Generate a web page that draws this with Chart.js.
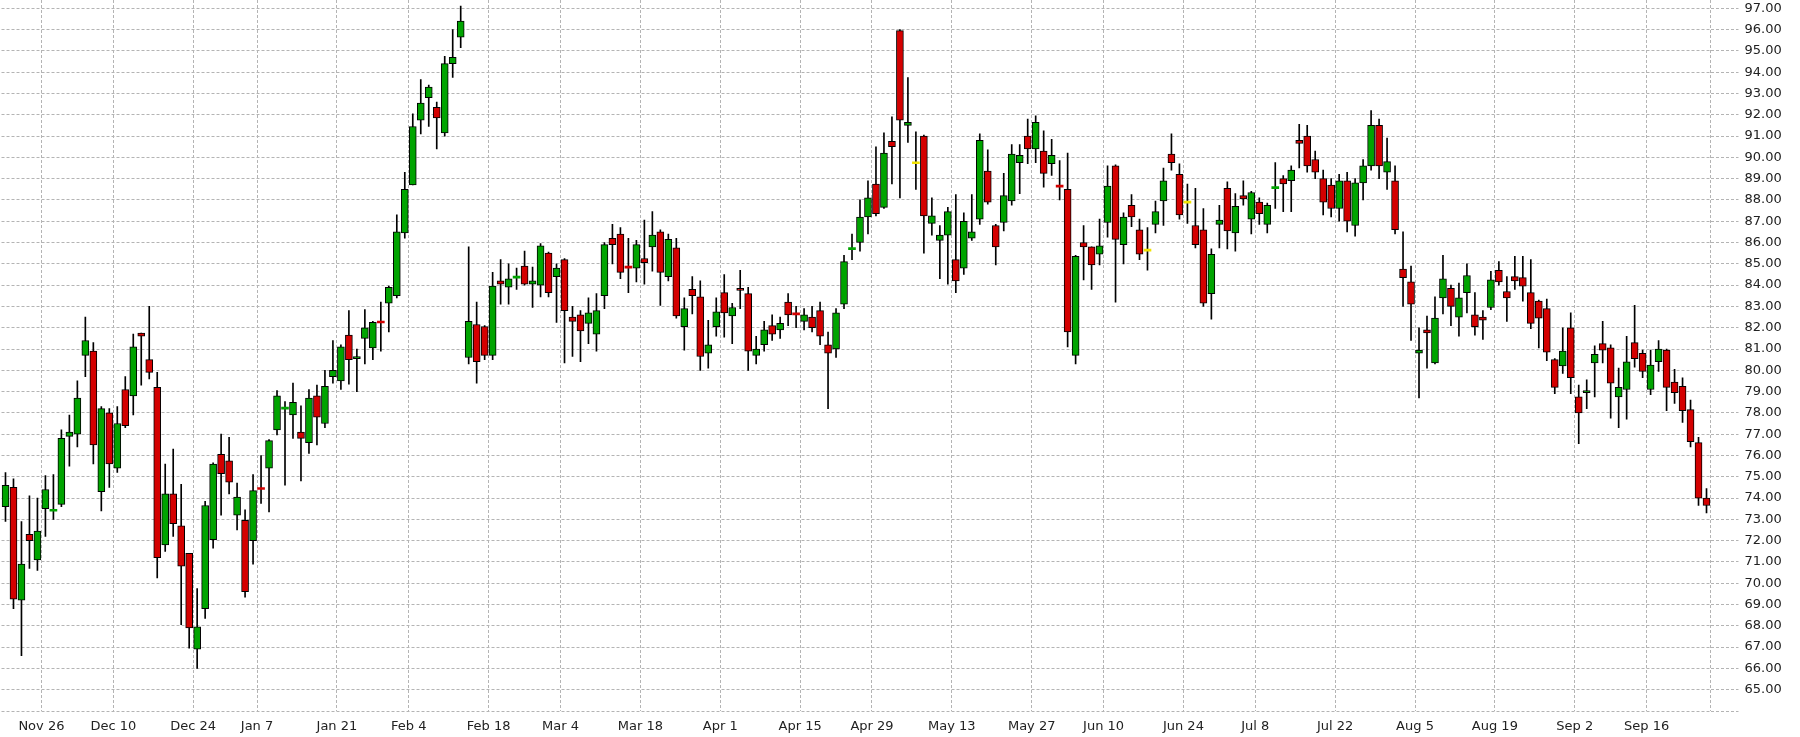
<!DOCTYPE html>
<html lang="en">
<head>
  <meta charset="UTF-8" />
  <title>Candles</title>
  <script src="https://cdn.jsdelivr.net/npm/chart.js"></script>
  <style>
    html, body { margin: 0; padding: 0; background: #fff; }
    #wrap { width: 1800px; height: 737px; position: relative; }
  </style>
</head>
<body>
  <div id="wrap"><canvas id="graph"></canvas></div>

  <script>
    // trading days
    const dates = [
      'Nov 16','Nov 19','Nov 20','Nov 21','Nov 23','Nov 26','Nov 27','Nov 28','Nov 29','Nov 30',
      'Dec 3','Dec 4','Dec 6','Dec 7','Dec 10','Dec 11','Dec 12','Dec 13','Dec 14','Dec 17','Dec 18','Dec 19','Dec 20','Dec 21','Dec 24','Dec 26','Dec 27','Dec 28','Dec 31',
      'Jan 2','Jan 3','Jan 4','Jan 7','Jan 8','Jan 9','Jan 10','Jan 11','Jan 14','Jan 15','Jan 16','Jan 17','Jan 18','Jan 22','Jan 23','Jan 24','Jan 25','Jan 28','Jan 29','Jan 30','Jan 31',
      'Feb 1','Feb 4','Feb 5','Feb 6','Feb 7','Feb 8','Feb 11','Feb 12','Feb 13','Feb 14','Feb 15','Feb 19','Feb 20','Feb 21','Feb 22','Feb 25','Feb 26','Feb 27','Feb 28',
      'Mar 1','Mar 4','Mar 5','Mar 6','Mar 7','Mar 8','Mar 11','Mar 12','Mar 13','Mar 14','Mar 15','Mar 18','Mar 19','Mar 20','Mar 21','Mar 22','Mar 25','Mar 26','Mar 27','Mar 28','Mar 29',
      'Apr 1','Apr 2','Apr 3','Apr 4','Apr 5','Apr 8','Apr 9','Apr 10','Apr 11','Apr 12','Apr 15','Apr 16','Apr 17','Apr 18','Apr 22','Apr 23','Apr 24','Apr 25','Apr 26','Apr 29','Apr 30',
      'May 1','May 2','May 3','May 6','May 7','May 8','May 9','May 10','May 13','May 14','May 15','May 16','May 17','May 20','May 21','May 22','May 23','May 24','May 28','May 29','May 30','May 31',
      'Jun 3','Jun 4','Jun 5','Jun 6','Jun 7','Jun 10','Jun 11','Jun 12','Jun 13','Jun 14','Jun 17','Jun 18','Jun 19','Jun 20','Jun 21','Jun 24','Jun 25','Jun 26','Jun 27','Jun 28',
      'Jul 1','Jul 2','Jul 3','Jul 5','Jul 8','Jul 9','Jul 10','Jul 11','Jul 12','Jul 15','Jul 16','Jul 17','Jul 18','Jul 19','Jul 22','Jul 23','Jul 24','Jul 25','Jul 26','Jul 29','Jul 30','Jul 31',
      'Aug 1','Aug 2','Aug 5','Aug 6','Aug 7','Aug 8','Aug 9','Aug 12','Aug 13','Aug 14','Aug 15','Aug 16','Aug 19','Aug 20','Aug 21','Aug 22','Aug 23','Aug 26','Aug 27','Aug 28','Aug 29','Aug 30',
      'Sep 3','Sep 4','Sep 5','Sep 6','Sep 9','Sep 10','Sep 11','Sep 12','Sep 13','Sep 16','Sep 17','Sep 18','Sep 19','Sep 20','Sep 23','Sep 24','Sep 25'
    ];

    const opens = [
      73.6,74.5,69.2,72.3,71.1,73.5,73.38,73.7,76.9,77.0,
      80.7,80.9,74.3,78.0,75.4,79.1,78.8,81.75,80.5,79.2,71.8,74.2,72.7,71.4,66.9,68.8,72.05,76.05,75.75,
      73.2,72.95,72.0,74.42,75.4,77.2,78.18,77.9,77.1,76.6,78.8,77.5,79.7,79.5,81.65,80.55,81.5,81.05,82.25,83.15,83.5,
      86.45,88.7,91.75,92.8,92.35,91.15,94.4,95.65,80.6,82.15,82.05,80.7,84.2,83.9,84.33,84.9,84.05,84.0,85.5,
      84.4,85.2,82.5,82.6,82.2,81.7,83.5,86.2,86.4,84.83,84.8,85.25,85.8,86.5,84.4,85.75,82.05,83.8,83.45,80.8,82.05,
      83.65,82.55,83.85,83.6,80.7,81.2,82.1,81.9,83.2,82.62,82.3,82.5,82.8,81.2,81.0,83.1,85.67,86.0,87.2,88.75,87.65,
      90.75,95.95,91.5,89.7,91.0,86.9,86.1,86.35,85.2,84.8,86.2,87.1,89.35,86.8,86.95,87.95,89.75,91.0,90.4,90.3,89.7,88.65,
      88.5,80.7,86.0,85.8,85.45,86.95,89.6,85.9,87.75,86.6,85.6,86.85,87.95,90.15,89.2,87.85,86.8,86.6,83.6,86.85,
      88.55,86.45,88.2,87.1,87.9,86.85,88.53,89.0,88.9,90.8,91.0,89.9,89.0,88.7,87.6,88.9,86.8,88.8,89.6,91.5,89.3,88.9,
      84.75,84.15,80.8,81.9,80.35,83.4,83.85,82.5,83.65,82.6,82.5,82.95,84.7,83.7,84.4,84.35,83.65,83.25,82.9,80.5,80.2,82.0,
      78.75,78.95,80.35,81.25,81.05,78.75,79.1,81.3,80.8,79.1,80.4,80.95,79.45,79.25,78.15,76.6,74.0
    ];
    const highs = [
      75.2,74.9,72.9,74.1,74.0,75.05,75.1,77.2,77.9,79.5,
      82.5,81.3,78.3,78.2,78.3,79.7,81.7,81.75,83.0,79.9,75.6,76.3,74.65,71.4,69.75,73.85,75.65,77.0,76.85,
      74.7,73.45,75.1,76.0,76.75,79.05,78.53,79.4,78.33,79.1,79.3,80.0,81.4,81.2,82.8,81.0,82.85,82.3,83.2,83.95,87.3,
      89.3,92.05,93.65,93.4,92.6,94.75,96.0,97.1,85.8,83.2,82.1,84.6,85.2,85.0,84.8,85.6,84.85,85.95,85.55,
      85.0,85.25,83.0,82.8,83.4,83.6,86.0,86.85,86.7,86.2,86.1,87.05,87.45,86.6,86.4,86.2,83.4,84.4,84.2,82.35,83.4,
      84.5,83.15,84.7,83.9,81.6,82.3,82.6,82.5,83.6,83.0,82.9,83.0,83.2,81.8,82.9,85.4,86.4,88.0,88.9,90.5,91.15,
      91.9,96.0,93.75,91.2,91.05,88.1,86.8,87.65,88.25,87.4,88.25,91.1,90.35,86.85,89.25,90.6,90.6,91.8,91.95,91.25,90.85,89.85,
      90.2,85.4,86.8,85.8,87.1,89.6,89.65,87.4,88.25,87.1,86.7,87.95,89.5,91.1,89.7,88.75,88.55,87.6,85.7,87.75,
      88.85,88.3,88.9,88.4,88.1,87.85,89.75,89.15,89.6,91.55,91.5,90.3,89.4,89.0,89.2,89.3,89.0,89.9,92.2,91.8,90.9,89.6,
      86.5,84.9,82.0,82.55,83.45,85.4,84.0,84.1,85.0,83.65,82.8,84.65,85.1,84.4,85.35,85.35,85.2,83.3,83.35,80.55,82.0,82.7,
      79.3,79.55,81.15,82.3,81.2,80.1,81.6,83.05,80.95,80.95,81.4,81.0,80.05,79.65,78.6,76.85,74.45
    ];
    const lows = [
      72.9,68.8,66.6,70.7,70.6,72.2,73.0,73.6,75.5,76.4,
      79.7,75.6,73.4,74.5,75.2,77.3,77.9,79.3,79.6,70.25,71.5,72.2,68.05,66.95,66.0,68.35,71.65,73.2,74.2,
      72.5,69.35,70.9,73.75,73.35,76.97,74.6,76.8,74.8,76.1,76.5,77.3,79.4,79.1,79.35,79.0,80.3,80.5,80.9,81.8,83.4,
      86.2,88.7,91.1,91.45,90.4,91.0,93.75,95.15,80.3,79.4,80.5,80.5,83.1,83.1,83.8,84.0,82.95,83.45,83.45,
      82.25,80.35,80.65,80.4,81.25,80.9,82.9,85.0,84.3,83.65,84.15,84.05,84.65,83.05,84.2,82.45,80.95,82.65,80.0,80.1,81.6,
      81.55,81.25,82.9,80.0,80.3,80.9,81.4,81.5,82.1,82.0,81.9,81.8,81.2,78.2,80.6,82.9,85.2,85.6,86.4,87.25,87.6,
      88.75,88.1,90.7,88.5,85.5,86.35,84.3,84.05,83.65,84.5,86.1,86.85,87.8,84.95,86.55,87.75,88.3,89.7,89.75,88.6,89.15,88.0,
      81.1,80.3,84.25,83.8,84.95,86.25,83.2,85.0,86.75,85.2,84.7,86.45,86.8,89.4,87.1,86.9,85.75,83.0,82.4,85.75,
      85.7,85.6,87.75,86.4,86.85,86.45,87.6,87.45,87.45,89.5,89.3,89.0,87.3,87.2,87.0,86.5,86.3,88.0,89.4,89.0,88.5,86.4,
      83.0,81.4,78.7,80.1,80.3,82.65,82.1,81.6,82.7,81.65,81.45,82.85,84.0,82.3,83.8,83.25,81.95,81.05,80.45,78.9,79.85,78.9,
      76.55,78.2,78.75,80.35,77.75,77.3,77.7,80.15,79.65,78.85,79.95,78.1,78.45,77.55,76.4,73.65,73.3
    ];
    const closes = [
      74.6,69.25,70.9,72.0,72.45,74.4,73.4,76.8,77.1,78.7,
      81.4,76.5,78.2,75.6,77.5,77.4,81.1,81.6,79.9,71.2,74.2,72.8,70.8,67.9,67.95,73.65,75.6,75.15,74.75,
      74.05,69.6,74.35,74.4,76.7,78.8,78.2,78.5,76.8,78.7,77.8,79.25,80.0,81.1,80.5,80.65,82.0,82.25,82.22,83.9,86.5,
      88.5,91.45,92.55,93.3,91.85,94.4,94.7,96.4,82.3,80.4,80.7,83.95,84.05,84.3,84.35,84.05,84.2,85.85,83.65,
      84.8,82.8,82.3,81.85,82.7,82.8,85.9,85.9,84.6,84.8,85.9,85.05,86.35,84.6,86.15,82.55,82.9,83.5,80.65,81.2,82.75,
      82.7,82.95,83.75,80.9,81.0,81.9,81.7,82.2,82.6,82.6,82.6,82.0,81.6,80.8,82.7,85.1,85.69,87.2,88.1,87.35,90.2,
      90.5,91.75,91.65,89.7,87.25,87.25,86.35,87.45,84.2,87.0,86.5,90.8,87.9,85.8,88.2,90.15,90.1,90.4,91.65,89.25,90.1,88.6,
      81.8,85.35,85.8,84.95,85.85,88.65,86.15,87.2,87.2,85.45,85.6,87.45,88.9,89.75,87.3,87.85,85.9,83.15,85.45,87.05,
      86.55,87.7,88.05,88.35,87.35,87.75,88.55,88.75,89.4,90.65,89.6,89.3,87.9,87.6,88.9,87.0,88.8,89.6,91.5,89.6,89.8,86.6,
      84.35,83.1,80.95,81.75,82.45,84.3,83.0,83.4,84.45,82.05,82.35,84.25,84.15,83.4,84.2,83.95,82.2,82.45,80.85,79.2,80.9,79.65,
      78.0,79.05,80.75,80.95,79.4,79.2,80.4,80.55,79.95,80.25,81.0,79.2,78.95,78.1,76.65,74.0,73.65
    ];

    const tickDays = ['Nov 26','Dec 10','Dec 24','Jan 7','Jan 22','Feb 4','Feb 19','Mar 4','Mar 18','Apr 1','Apr 15',
                      'Apr 29','May 13','May 28','Jun 10','Jun 24','Jul 8','Jul 22','Aug 5','Aug 19','Sep 3','Sep 16'];
    const tickTexts = ['Nov 26','Dec 10','Dec 24','Jan 7','Jan 21','Feb 4','Feb 18','Mar 4','Mar 18','Apr 1','Apr 15',
                       'Apr 29','May 13','May 27','Jun 10','Jun 24','Jul 8','Jul 22','Aug 5','Aug 19','Sep 2','Sep 16'];
    const priceTicks = [64,65,66,67,68,69,70,71,72,73,74,75,76,77,78,79,80,81,82,83,84,85,86,87,88,89,90,91,92,93,94,95,96,97];

    const VERT = '#00a400';
    const ROUGE = '#d40000';
    const JAUNE = '#f2e200';
    const GRILLE = '#b4b4b4';
    const VIDE = 'rgba(0,0,0,0)';

    function couleur(i) {
      const d = closes[i] - opens[i];
      if (d === 0) return JAUNE;
      return d > 0 ? VERT : ROUGE;
    }
    function plat(i) {
      return Math.abs(closes[i] - opens[i]) < 0.08;
    }

    new Chart(document.getElementById('graph'), {
      type: 'bar',
      data: {
        labels: dates,
        datasets: [
          {
            label: 'meches',
            data: dates.map((d, i) => [lows[i], highs[i]]),
            backgroundColor: '#000',
            borderWidth: 0,
            barThickness: 1,
            grouped: false,
            order: 2
          },
          {
            label: 'corps',
            data: dates.map((d, i) => [opens[i], closes[i]]),
            backgroundColor: ctx => couleur(ctx.dataIndex),
            borderColor: '#000',
            borderWidth: ctx => plat(ctx.dataIndex) ? 0 : 1,
            borderSkipped: false,
            barThickness: 7,
            minBarLength: 2,
            grouped: false,
            order: 1
          }
        ]
      },
      options: {
        responsive: true,
        maintainAspectRatio: false,
        animation: false,
        layout: { padding: { left: 1.5, top: 0, right: 0, bottom: 0 } },
        plugins: { legend: { display: false }, tooltip: { enabled: false } },
        scales: {
          x: {
            offset: true,
            grid: {
              offset: true,
              drawTicks: false,
              // only the labelled days and the right edge get a line
              color: ctx => (!ctx.tick || tickDays.includes(dates[ctx.index])) ? GRILLE : VIDE
            },
            border: { display: false, dash: [3, 2] },
            ticks: {
              autoSkip: false,
              maxRotation: 0,
              padding: 8,
              labelOffset: -4,
              color: '#222',
              font: { family: 'DejaVu Sans', size: 13 },
              callback: (v, i) => {
                const k = tickDays.indexOf(dates[i]);
                return k < 0 ? '' : tickTexts[k];
              }
            },
            afterFit: s => { s.height = 26; s.paddingLeft = 0; s.paddingRight = 0; }
          },
          y: {
            position: 'right',
            min: 64,
            max: 97.39,
            grid: { color: GRILLE, drawTicks: true, tickLength: 28, tickColor: GRILLE, tickBorderDash: [3, 2] },
            border: { display: false, dash: [3, 2] },
            afterBuildTicks: s => { s.ticks = priceTicks.map(v => ({ value: v })); },
            ticks: {
              padding: 6,
              color: '#222',
              font: { family: 'DejaVu Sans', size: 13 },
              callback: v => v === 64 ? '' : v.toFixed(2)
            },
            afterFit: s => { s.width = 89.5; s.paddingTop = 0; s.paddingBottom = 0; }
          }
        }
      }
    });
  </script>
</body>
</html>
